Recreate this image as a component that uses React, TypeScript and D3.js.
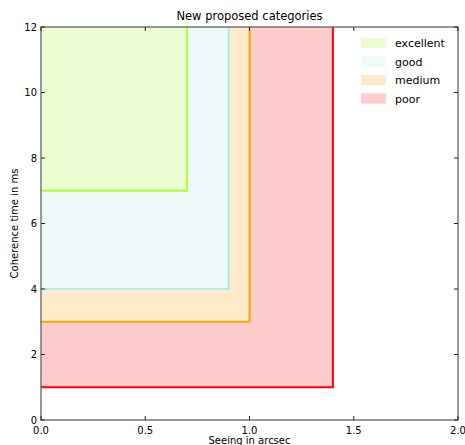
import React from "react";
import * as d3 from "d3";

const categories = ["excellent", "good", "medium", "poor"];
const maxSeeing = [0.7, 0.9, 1.0, 1.4];
const minCoherence = [7, 4, 3, 1];
const fillColors = ["#ebfcd0", "#eefafa", "#ffebcc", "#ffcccc"];
const edgeColors = ["#adff2f", "#aeeaea", "#ffa500", "#ff0000"];
const xTicks = [0, 0.5, 1.0, 1.5, 2.0];
const yTicks = [0, 2, 4, 6, 8, 10, 12];

const W = 465, H = 445;
const L = 41, R = 458, T = 27, B = 420;

export default function App() {
  const x = d3.scaleLinear().domain([0, 2]).range([L, R]);
  const y = d3.scaleLinear().domain([0, 12]).range([B, T]);
  const font = "DejaVu Sans, sans-serif";
  const order = [3, 2, 1, 0];
  return (
    <svg width={W} height={H} style={{ position: "absolute", left: 0, top: 0 }} fontFamily={font}>
      <rect x={0} y={0} width={W} height={H} fill="white" />
      {order.map((i) => (
        <rect key={"f" + i} x={x(0)} y={y(12)} width={x(maxSeeing[i]) - x(0)} height={y(minCoherence[i]) - y(12)} fill={fillColors[i]} />
      ))}
      {order.map((i) => (
        <path key={"e" + i} d={`M${x(0)},${y(minCoherence[i])}H${x(maxSeeing[i])}V${y(12)}`} fill="none" stroke={edgeColors[i]} strokeWidth={2} />
      ))}
      <rect x={L} y={T} width={R - L} height={B - T} fill="none" stroke="#555" strokeWidth={1.2} />
      {xTicks.map((t) => (
        <g key={"x" + t}>
          <line x1={x(t)} x2={x(t)} y1={B} y2={B - 4} stroke="#222" />
          <line x1={x(t)} x2={x(t)} y1={T} y2={T + 4} stroke="#222" />
          <text x={x(t)} y={B + 14} fontSize={10} textAnchor="middle" fill="#000">{t.toFixed(1)}</text>
        </g>
      ))}
      {yTicks.map((t) => (
        <g key={"y" + t}>
          <line x1={L} x2={L + 4} y1={y(t)} y2={y(t)} stroke="#222" />
          <line x1={R} x2={R - 4} y1={y(t)} y2={y(t)} stroke="#222" />
          <text x={L - 4} y={y(t) + 3.5} fontSize={10} textAnchor="end" fill="#000">{t}</text>
        </g>
      ))}
      <text x={(L + R) / 2} y={20} fontSize={11.5} textAnchor="middle">New proposed categories</text>
      <text x={(L + R) / 2} y={444} fontSize={10} textAnchor="middle">Seeing in arcsec</text>
      <text transform={`translate(18,${(T + B) / 2}) rotate(-90)`} fontSize={10} textAnchor="middle">Coherence time in ms</text>
      {categories.map((c, i) => (
        <g key={"l" + c}>
          <rect x={361} y={38 + i * 18.5} width={25} height={10} fill={fillColors[i]} />
          <text x={395} y={47 + i * 18.5} fontSize={11}>{c}</text>
        </g>
      ))}
    </svg>
  );
}
